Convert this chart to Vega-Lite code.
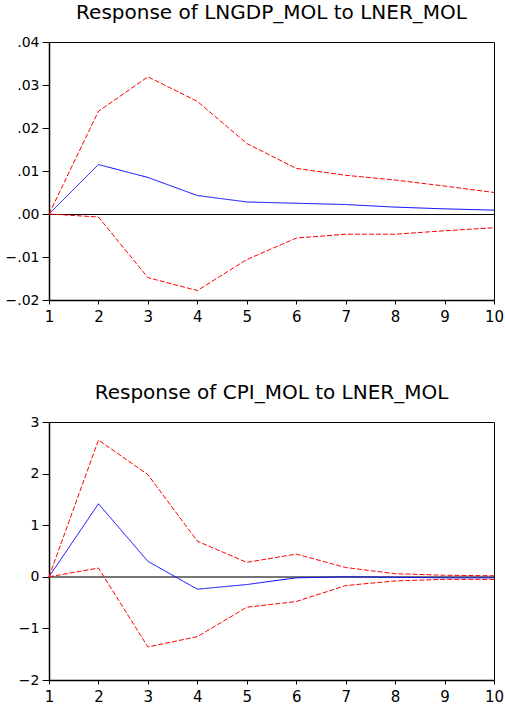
{
  "$schema": "https://vega.github.io/schema/vega-lite/v6.json",
  "padding": {"left": 4, "top": 2, "right": 0, "bottom": 0},
  "background": "white",
  "spacing": 57,
  "datasets": {
    "gdp": [
      {"period": 1, "series": "response", "value": 0},
      {"period": 2, "series": "response", "value": 0.0115},
      {"period": 3, "series": "response", "value": 0.0085},
      {"period": 4, "series": "response", "value": 0.0043},
      {"period": 5, "series": "response", "value": 0.0028},
      {"period": 6, "series": "response", "value": 0.0025},
      {"period": 7, "series": "response", "value": 0.0022},
      {"period": 8, "series": "response", "value": 0.0016},
      {"period": 9, "series": "response", "value": 0.0012},
      {"period": 10, "series": "response", "value": 0.0009},
      {"period": 1, "series": "upper", "value": 0},
      {"period": 2, "series": "upper", "value": 0.0239},
      {"period": 3, "series": "upper", "value": 0.0319},
      {"period": 4, "series": "upper", "value": 0.0262},
      {"period": 5, "series": "upper", "value": 0.0164},
      {"period": 6, "series": "upper", "value": 0.0106},
      {"period": 7, "series": "upper", "value": 0.0090},
      {"period": 8, "series": "upper", "value": 0.0079},
      {"period": 9, "series": "upper", "value": 0.0065},
      {"period": 10, "series": "upper", "value": 0.0050},
      {"period": 1, "series": "lower", "value": 0},
      {"period": 2, "series": "lower", "value": -0.0007},
      {"period": 3, "series": "lower", "value": -0.0148},
      {"period": 4, "series": "lower", "value": -0.0178},
      {"period": 5, "series": "lower", "value": -0.0106},
      {"period": 6, "series": "lower", "value": -0.0056},
      {"period": 7, "series": "lower", "value": -0.0047},
      {"period": 8, "series": "lower", "value": -0.0047},
      {"period": 9, "series": "lower", "value": -0.0039},
      {"period": 10, "series": "lower", "value": -0.0032}
    ],
    "cpi": [
      {"period": 1, "series": "response", "value": 0},
      {"period": 2, "series": "response", "value": 1.415},
      {"period": 3, "series": "response", "value": 0.30},
      {"period": 4, "series": "response", "value": -0.24},
      {"period": 5, "series": "response", "value": -0.15},
      {"period": 6, "series": "response", "value": -0.02},
      {"period": 7, "series": "response", "value": 0.0},
      {"period": 8, "series": "response", "value": -0.01},
      {"period": 9, "series": "response", "value": -0.02},
      {"period": 10, "series": "response", "value": -0.02},
      {"period": 1, "series": "upper", "value": 0},
      {"period": 2, "series": "upper", "value": 2.65},
      {"period": 3, "series": "upper", "value": 1.98},
      {"period": 4, "series": "upper", "value": 0.69},
      {"period": 5, "series": "upper", "value": 0.28},
      {"period": 6, "series": "upper", "value": 0.44},
      {"period": 7, "series": "upper", "value": 0.18},
      {"period": 8, "series": "upper", "value": 0.06},
      {"period": 9, "series": "upper", "value": 0.03},
      {"period": 10, "series": "upper", "value": 0.02},
      {"period": 1, "series": "lower", "value": 0},
      {"period": 2, "series": "lower", "value": 0.17},
      {"period": 3, "series": "lower", "value": -1.36},
      {"period": 4, "series": "lower", "value": -1.16},
      {"period": 5, "series": "lower", "value": -0.59},
      {"period": 6, "series": "lower", "value": -0.48},
      {"period": 7, "series": "lower", "value": -0.17},
      {"period": 8, "series": "lower", "value": -0.08},
      {"period": 9, "series": "lower", "value": -0.05},
      {"period": 10, "series": "lower", "value": -0.05}
    ]
  },
  "vconcat": [
    {
      "width": 445,
      "height": 258,
      "title": {"text": "Response of LNGDP_MOL to LNER_MOL"},
      "data": {"name": "gdp"},
      "layer": [
        {
          "mark": {"type": "rule", "color": "black", "strokeWidth": 1, "yOffset": 0.5},
          "encoding": {"y": {"datum": 0, "type": "quantitative", "title": null}}
        },
        {
          "mark": {"type": "line", "strokeWidth": 1},
          "encoding": {
            "x": {"field": "period", "type": "quantitative", "title": null,
                  "scale": {"domain": [1, 10], "nice": false, "zero": false},
                  "axis": {"values": [1,2,3,4,5,6,7,8,9,10], "format": "d"}},
            "y": {"field": "value", "type": "quantitative", "title": null,
                  "scale": {"domain": [-0.02, 0.04], "nice": false},
                  "axis": {"values": [-0.02,-0.01,0,0.01,0.02,0.03,0.04],
                           "labelExpr": "replace(format(datum.value, '.2f'), '0.', '.')"}},
            "color": {"field": "series", "type": "nominal", "legend": null,
                      "scale": {"domain": ["response","upper","lower"], "range": ["#0000ff","#ff0000","#ff0000"]}},
            "strokeDash": {"field": "series", "type": "nominal", "legend": null,
                      "scale": {"domain": ["response","upper","lower"], "range": [[1,0],[5,2],[5,2]]}}
          }
        }
      ]
    },
    {
      "width": 445,
      "height": 258,
      "title": {"text": "Response of CPI_MOL to LNER_MOL"},
      "data": {"name": "cpi"},
      "layer": [
        {
          "mark": {"type": "rule", "color": "#777777", "strokeWidth": 1},
          "encoding": {"y": {"datum": 0, "type": "quantitative", "title": null}}
        },
        {
          "mark": {"type": "line", "strokeWidth": 1},
          "encoding": {
            "x": {"field": "period", "type": "quantitative", "title": null,
                  "scale": {"domain": [1, 10], "nice": false, "zero": false},
                  "axis": {"values": [1,2,3,4,5,6,7,8,9,10], "format": "d"}},
            "y": {"field": "value", "type": "quantitative", "title": null,
                  "scale": {"domain": [-2, 3], "nice": false},
                  "axis": {"values": [-2,-1,0,1,2,3], "format": "d"}},
            "color": {"field": "series", "type": "nominal", "legend": null,
                      "scale": {"domain": ["response","upper","lower"], "range": ["#0000ff","#ff0000","#ff0000"]}},
            "strokeDash": {"field": "series", "type": "nominal", "legend": null,
                      "scale": {"domain": ["response","upper","lower"], "range": [[1,0],[5,2],[5,2]]}}
          }
        }
      ]
    }
  ],
  "config": {
    "view": {"stroke": "black", "strokeWidth": 1},
    "title": {"font": "DejaVu Sans", "fontSize": 20, "fontWeight": "normal", "color": "black", "offset": 12, "anchor": "middle"},
    "axis": {"grid": false, "domainColor": "black", "domainWidth": 1.5, "tickColor": "black", "tickWidth": 1,
             "labelColor": "black", "labelFont": "DejaVu Sans", "labelOverlap": false},
    "axisX": {"tickSize": 4, "labelPadding": 5, "labelFontSize": 15, "labelFlush": false, "minExtent": 24, "maxExtent": 24},
    "axisY": {"tickSize": 7, "labelPadding": 3, "labelFontSize": 14, "minExtent": 40, "maxExtent": 40}
  }
}
